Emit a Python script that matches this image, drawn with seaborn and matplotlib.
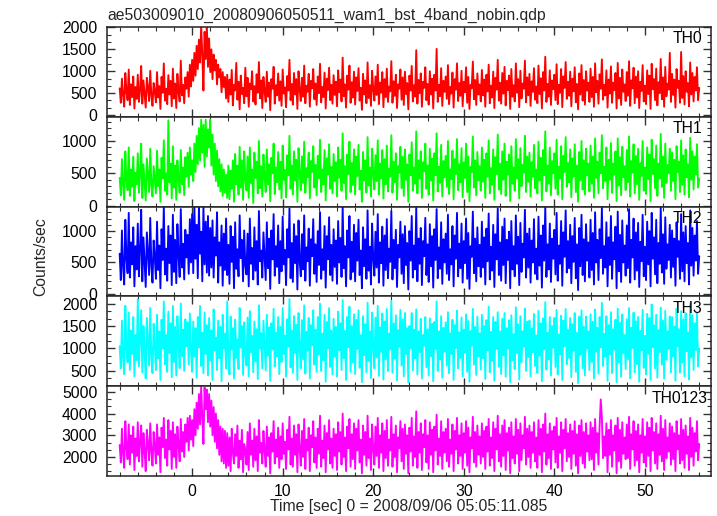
import numpy as np
import pandas as pd
import matplotlib
matplotlib.use("Agg")
import matplotlib.pyplot as plt
from matplotlib.ticker import MultipleLocator, AutoMinorLocator
import seaborn as sns

title = "ae503009010_20080906050511_wam1_bst_4band_nobin.qdp"
xlabel = "Time [sec] 0 = 2008/09/06 05:05:11.085"
ylabel = "Counts/sec"
bands = ["TH0", "TH1", "TH2", "TH3", "TH0123"]
colors = ["#ff0000", "#00ff00", "#0000ff", "#00ffff", "#ff00ff"]

t_start = -8.0
t_step = 0.125

th0 = [
    610, 280, 830, 450, 190, 960, 520, 340, 1040, 230, 700, 410, 880, 150, 640, 370,
    920, 300, 560, 1120, 260, 790, 480, 170, 850, 620, 320, 1010, 440, 210, 730, 540,
    290, 980, 400, 660, 140, 870, 510, 1180, 330, 600, 250, 910, 470, 780, 200, 1060,
    380, 720, 160, 940, 530, 310, 1240, 450, 690, 270, 860, 600, 980, 420, 1150, 650,
    1260, 780, 1420, 900, 1580, 1050, 1720, 1200, 2040, 1350, 560, 1900, 1280, 2060, 1100, 1750,
    980, 1500, 820, 1380, 1020, 1260, 700, 1150, 860, 1050, 520, 980, 640, 870, 380, 920,
    300, 810, 470, 1030, 220, 690, 560, 1190, 350, 760, 130, 900, 480, 620, 270, 1080,
    430, 850, 190, 720, 590, 1000, 310, 660, 240, 930, 510, 1210, 380, 790, 160, 870,
    540, 300, 990, 420, 740, 110, 820, 600, 1100, 260, 680, 450, 950, 330, 770, 210,
    1040, 490, 630, 180, 890, 560, 1260, 340, 710, 240, 960, 470, 820, 140, 1000, 580,
    320, 850, 420, 1130, 270, 670, 530, 940, 190, 780, 610, 1050, 360, 720, 230, 880,
    500, 1170, 290, 640, 410, 970, 150, 830, 570, 1080, 340, 690, 260, 910, 460, 760,
    200, 1020, 520, 810, 310, 1310, 430, 700, 170, 900, 580, 1130, 280, 750, 400, 990,
    240, 860, 550, 1070, 330, 620, 120, 940, 470, 790, 270, 1200, 390, 680, 210, 1010,
    590, 330, 880, 460, 1150, 250, 740, 510, 980, 180, 820, 410, 1060, 300, 650, 540,
    1230, 280, 770, 440, 920, 160, 700, 600, 1040, 350, 860, 230, 990, 480, 730, 130,
    900, 560, 1120, 310, 680, 420, 1480, 260, 800, 500, 950, 190, 760, 620, 1090, 340,
    710, 240, 1000, 470, 830, 150, 920, 560, 1510, 300, 690, 430, 1070, 210, 780, 530,
    880, 370, 1140, 250, 640, 490, 970, 170, 820, 580, 1180, 320, 730, 440, 1010, 200,
    760, 520, 1090, 280, 870, 140, 690, 610, 1220, 360, 800, 230, 950, 470, 700, 310,
    1030, 450, 810, 190, 920, 540, 1150, 270, 670, 400, 990, 160, 850, 580, 1260, 330,
    740, 260, 960, 490, 1100, 220, 780, 570, 900, 140, 1050, 420, 680, 310, 1180, 510,
    820, 180, 1010, 380, 720, 600, 1240, 290, 860, 450, 940, 210, 770, 530, 1070, 350,
    650, 270, 1130, 480, 840, 150, 980, 560, 1330, 300, 710, 420, 1020, 230, 790, 590,
    920, 340, 1160, 250, 690, 510, 1050, 180, 880, 620, 1210, 370, 760, 440, 990, 200,
    830, 540, 1090, 290, 710, 130, 950, 470, 1140, 330, 800, 240, 1000, 560, 740, 300,
    1060, 410, 870, 190, 1180, 520, 780, 260, 930, 600, 1270, 350, 690, 450, 1020, 170,
    810, 490, 1110, 280, 740, 570, 960, 150, 1190, 380, 850, 230, 1040, 530, 700, 320,
    980, 440, 1230, 210, 790, 610, 1080, 270, 880, 400, 1000, 160, 760, 550, 1140, 310,
    670, 250, 1020, 480, 900, 140, 1170, 590, 820, 340, 1060, 220, 750, 500, 1280, 360,
    860, 190, 1100, 430, 720, 580, 1420, 300, 940, 460, 810, 170, 1050, 620, 780, 280,
    1440, 390, 890, 240, 1000, 530, 730, 200, 1200, 470, 960, 310, 870, 560, 1090, 340,
    620,
]

th1 = [
    430, 160, 720, 310, 90, 840, 380, 240, 900, 150, 560, 290, 760, 70, 510, 330,
    810, 200, 460, 960, 120, 640, 350, 80, 730, 480, 210, 880, 320, 140, 610, 400,
    190, 850, 300, 560, 60, 740, 420, 1010, 230, 500, 170, 1320, 360, 650, 110, 920,
    280, 620, 90, 700, 410, 200, 860, 330, 590, 160, 750, 450, 820, 290, 900, 480,
    700, 380, 960, 520, 1080, 640, 1200, 700, 1330, 820, 1250, 600, 1330, 760, 1180, 900,
    1330, 620, 1100, 480, 960, 380, 850, 300, 720, 220, 640, 150, 560, 200, 480, 120,
    620, 100, 540, 260, 700, 60, 800, 330, 620, 170, 910, 280, 700, 90, 840, 390,
    240, 760, 120, 900, 350, 560, 40, 820, 430, 680, 190, 1000, 270, 610, 140, 790,
    460, 210, 870, 330, 640, 70, 740, 500, 960, 180, 590, 360, 830, 250, 680, 110,
    930, 400, 550, 130, 780, 470, 1080, 260, 620, 170, 840, 390, 710, 60, 890, 490,
    240, 760, 350, 990, 200, 580, 440, 820, 110, 690, 520, 920, 280, 630, 160, 770,
    420, 1020, 210, 560, 330, 860, 80, 730, 480, 950, 260, 600, 190, 800, 380, 670,
    140, 900, 430, 710, 230, 1120, 350, 610, 100, 790, 490, 990, 210, 660, 320, 870,
    170, 760, 460, 940, 250, 540, 60, 830, 390, 700, 200, 1060, 310, 590, 140, 880,
    500, 250, 780, 380, 1010, 170, 650, 420, 860, 110, 720, 330, 930, 220, 570, 450,
    1090, 200, 680, 360, 810, 90, 610, 510, 910, 270, 760, 150, 870, 400, 640, 60,
    790, 470, 980, 230, 590, 340, 1150, 190, 700, 420, 840, 120, 670, 530, 960, 260,
    620, 170, 880, 390, 730, 80, 810, 470, 1120, 220, 600, 350, 940, 140, 690, 440,
    770, 290, 1000, 180, 560, 410, 850, 100, 720, 490, 1030, 240, 640, 360, 890, 130,
    670, 430, 960, 210, 760, 70, 600, 520, 1070, 280, 700, 160, 830, 390, 610, 230,
    900, 370, 710, 120, 810, 450, 1010, 190, 580, 320, 870, 90, 750, 490, 1100, 250,
    650, 180, 840, 400, 960, 150, 680, 480, 790, 70, 920, 340, 590, 230, 1030, 420,
    720, 110, 890, 300, 630, 510, 1080, 210, 760, 370, 820, 140, 670, 450, 940, 270,
    560, 190, 990, 390, 740, 80, 860, 470, 1150, 220, 620, 340, 900, 160, 690, 500,
    810, 260, 1020, 170, 600, 420, 920, 100, 770, 520, 1060, 290, 660, 360, 870, 130,
    730, 450, 950, 210, 620, 60, 830, 390, 1000, 250, 700, 170, 880, 470, 650, 220,
    930, 340, 760, 120, 1040, 430, 680, 190, 820, 500, 1090, 270, 600, 380, 900, 100,
    710, 400, 970, 200, 650, 480, 840, 70, 1040, 310, 750, 160, 910, 440, 610, 240,
    860, 360, 1070, 140, 690, 510, 950, 190, 770, 330, 880, 90, 660, 460, 1000, 230,
    590, 180, 900, 410, 790, 70, 1020, 490, 720, 270, 930, 150, 650, 420, 1110, 290,
    760, 120, 960, 350, 630, 500, 880, 230, 820, 380, 710, 100, 920, 520, 680, 210,
    1010, 320, 780, 170, 870, 440, 640, 130, 1050, 400, 840, 250, 760, 480, 950, 280,
    420,
]

th2 = [
    640, 220, 1010, 430, 150, 1180, 560, 330, 1290, 260, 820, 470, 1060, 120, 760, 390,
    1120, 280, 690, 1340, 200, 900, 510, 110, 980, 650, 300, 1210, 450, 180, 850, 600,
    240, 1150, 380, 770, 90, 1030, 540, 1390, 310, 720, 210, 1080, 490, 930, 140, 1260,
    350, 860, 170, 1110, 620, 270, 1350, 420, 800, 230, 1020, 580, 940, 320, 1190, 500,
    1270, 330, 1390, 560, 1100, 250, 1380, 640, 990, 200, 1390, 470, 1150, 340, 1240, 290,
    1050, 420, 1170, 260, 900, 610, 1300, 180, 820, 450, 1090, 130, 960, 380, 1200, 300,
    780, 160, 1080, 510, 910, 90, 1140, 400, 710, 280, 1250, 570, 860, 200, 1010, 450,
    310, 960, 120, 1200, 480, 730, 230, 1060, 370, 840, 150, 1320, 520, 690, 260, 980,
    590, 220, 1140, 410, 880, 80, 1010, 550, 1270, 290, 760, 430, 1090, 170, 840, 360,
    1230, 470, 700, 140, 1030, 580, 1360, 250, 810, 190, 1110, 490, 920, 70, 1170, 530,
    280, 950, 390, 1250, 210, 740, 520, 1040, 130, 870, 600, 1190, 320, 790, 190, 1000,
    460, 1300, 240, 710, 380, 1080, 100, 920, 550, 1220, 300, 780, 210, 1030, 430, 850,
    160, 1160, 500, 890, 270, 1380, 410, 760, 120, 1010, 580, 1240, 230, 830, 350, 1100,
    200, 970, 530, 1180, 300, 690, 90, 1060, 440, 870, 240, 1330, 370, 750, 150, 1120,
    570, 290, 990, 420, 1270, 180, 820, 490, 1070, 130, 930, 380, 1190, 250, 720, 510,
    1320, 230, 860, 410, 1020, 110, 780, 580, 1150, 320, 950, 170, 1080, 460, 810, 70,
    1000, 530, 1240, 260, 770, 390, 1370, 200, 880, 480, 1050, 140, 840, 600, 1210, 300,
    790, 190, 1110, 440, 920, 100, 1030, 540, 1350, 250, 740, 400, 1140, 160, 870, 500,
    960, 320, 1260, 220, 710, 470, 1080, 120, 930, 560, 1290, 280, 800, 410, 1120, 180,
    840, 490, 1200, 240, 970, 80, 760, 590, 1310, 330, 880, 200, 1060, 440, 780, 270,
    1150, 420, 900, 150, 1040, 520, 1280, 230, 750, 370, 1100, 110, 950, 550, 1360, 300,
    820, 210, 1070, 460, 1200, 170, 860, 540, 990, 90, 1160, 390, 760, 280, 1250, 480,
    910, 140, 1130, 350, 800, 580, 1340, 260, 960, 420, 1040, 180, 850, 500, 1190, 320,
    720, 230, 1230, 450, 930, 100, 1090, 530, 1380, 270, 790, 390, 1120, 190, 880, 560,
    1020, 310, 1290, 210, 770, 480, 1160, 130, 980, 590, 1330, 340, 840, 410, 1100, 170,
    920, 510, 1210, 250, 790, 60, 1050, 440, 1260, 300, 870, 200, 1110, 530, 820, 260,
    1180, 380, 970, 150, 1300, 500, 860, 220, 1030, 570, 1370, 320, 760, 420, 1140, 120,
    900, 460, 1240, 240, 820, 550, 1070, 90, 1310, 360, 940, 190, 1170, 500, 770, 290,
    1090, 410, 1350, 180, 860, 580, 1200, 230, 980, 370, 1130, 110, 830, 520, 1260, 280,
    750, 220, 1150, 470, 1000, 120, 1290, 560, 900, 310, 1180, 170, 810, 480, 1370, 340,
    950, 160, 1220, 400, 790, 540, 1100, 260, 1010, 430, 880, 130, 1140, 590, 840, 240,
    1270, 360, 980, 200, 1080, 490, 810, 150, 1330, 450, 1050, 290, 930, 530, 1160, 320,
    600,
]

th3 = [
    1050, 560, 1620, 780, 430, 1950, 1000, 690, 1800, 520, 1400, 880, 1700, 380, 1300, 740,
    2100, 600, 1250, 1850, 470, 1500, 950, 330, 1680, 1150, 620, 1900, 820, 450, 1550, 1080,
    520, 1750, 780, 1380, 300, 1640, 1000, 2050, 650, 1300, 480, 1820, 900, 1560, 360, 1950,
    700, 1480, 400, 1720, 1100, 560, 2000, 830, 1420, 500, 1650, 1050, 1580, 640, 1780, 940,
    480, 1600, 820, 1450, 350, 1700, 1020, 1950, 610, 1350, 450, 1800, 880, 1520, 400, 1680,
    730, 1400, 300, 1870, 960, 1240, 520, 1620, 780, 1480, 270, 1750, 1000, 1330, 560, 2050,
    850, 420, 1710, 980, 1450, 330, 1640, 790, 1200, 540, 1900, 1020, 1500, 410, 1580, 870,
    620, 1690, 380, 1830, 920, 1280, 470, 1600, 710, 1430, 320, 1960, 1000, 1340, 560, 1620,
    1080, 510, 1750, 840, 1470, 280, 1560, 980, 1880, 600, 1350, 820, 1700, 430, 1480, 700,
    1900, 880, 1290, 370, 1650, 1040, 2100, 580, 1400, 460, 1720, 900, 1530, 300, 1790, 1010,
    560, 1630, 760, 1960, 440, 1370, 950, 1680, 330, 1520, 1070, 1850, 640, 1420, 480, 1700,
    860, 2000, 500, 1330, 740, 1750, 260, 1590, 1000, 1900, 590, 1400, 420, 1660, 820, 1480,
    370, 1820, 960, 1560, 520, 2080, 780, 1390, 300, 1700, 1030, 1930, 480, 1500, 690, 1760,
    430, 1640, 990, 1850, 570, 1300, 250, 1720, 850, 1540, 470, 2020, 720, 1380, 340, 1800,
    1050, 560, 1690, 800, 1950, 390, 1470, 930, 1780, 310, 1600, 760, 1880, 500, 1330, 980,
    2060, 460, 1560, 770, 1740, 290, 1410, 1040, 1860, 620, 1650, 380, 1790, 880, 1450, 240,
    1500, 1000, 1790, 510, 1420, 780, 1870, 420, 1380, 920, 1660, 330, 1300, 1060, 1700, 580,
    1430, 400, 1670, 830, 1550, 270, 1590, 990, 2050, 500, 1380, 760, 1720, 350, 1460, 930,
    1580, 620, 1810, 450, 1340, 880, 1640, 300, 1520, 1010, 1840, 560, 1360, 790, 1690, 380,
    1420, 910, 1760, 480, 1610, 260, 1390, 1060, 1880, 640, 1480, 410, 1710, 830, 1340, 530,
    1750, 780, 1500, 320, 1630, 960, 1930, 470, 1370, 720, 1700, 280, 1590, 990, 1810, 590,
    1380, 430, 1660, 850, 1790, 370, 1450, 1000, 1630, 250, 1740, 740, 1320, 540, 1920, 900,
    1540, 310, 1720, 690, 1380, 1040, 1890, 500, 1600, 810, 1620, 380, 1440, 920, 1770, 610,
    1290, 460, 1840, 840, 1560, 270, 1670, 980, 2030, 530, 1350, 760, 1700, 400, 1500, 1020,
    1680, 590, 1860, 420, 1310, 870, 1730, 300, 1620, 1050, 1880, 650, 1420, 790, 1680, 360,
    1540, 950, 1790, 480, 1350, 230, 1710, 860, 1850, 560, 1490, 400, 1710, 1000, 1380, 520,
    1760, 700, 1600, 330, 1870, 930, 1460, 440, 1700, 1020, 2020, 610, 1330, 820, 1720, 280,
    1520, 870, 1810, 450, 1430, 980, 1640, 250, 1890, 690, 1580, 370, 1760, 900, 1300, 540,
    1650, 760, 1900, 340, 1460, 1010, 1800, 470, 1610, 650, 1700, 260, 1390, 960, 1860, 570,
    1280, 420, 1770, 880, 1680, 300, 1980, 1030, 1520, 560, 1750, 350, 1410, 920, 1910, 640,
    1620, 330, 1840, 750, 1380, 990, 1710, 470, 1700, 820, 1490, 280, 1890, 1050, 1430, 460,
    1830, 680, 1650, 380, 1790, 940, 1360, 310, 2000, 800, 1740, 520, 1560, 970, 1780, 600,
    1000,
]

th0123 = [
    2550, 1750, 3300, 2150, 1500, 3650, 2400, 1900, 3500, 1650, 3000, 2200, 3400, 1400, 2850, 2050,
    3600, 1800, 2700, 3450, 1550, 3100, 2300, 1350, 3250, 2600, 1850, 3550, 2250, 1600, 3150, 2500,
    1700, 3500, 2100, 2900, 1300, 3350, 2450, 3800, 1950, 2800, 1600, 3700, 2350, 3200, 1450, 3600,
    2000, 3050, 1500, 3400, 2550, 1800, 3750, 2250, 3150, 2000, 3500, 2700, 3800, 2300, 3900, 2800,
    3700, 2500, 4200, 3000, 4500, 3300, 4900, 3500, 5250, 3800, 2600, 5200, 4200, 5100, 3600, 4900,
    3400, 4600, 3000, 4300, 2700, 4000, 2400, 3700, 2100, 3400, 1800, 3300, 1700, 3200, 1500, 3100,
    1600, 2900, 1350, 3300, 2200, 1700, 3050, 2050, 3450, 1500, 2750, 1900, 3250, 1300, 2600, 2300,
    1650, 3150, 1400, 3550, 2100, 2750, 1550, 3300, 1850, 2950, 1350, 3700, 2200, 2650, 1700, 3200,
    2300, 1550, 3400, 2050, 2900, 1250, 3100, 2250, 3650, 1700, 2800, 2000, 3350, 1500, 2950, 1900,
    3550, 2150, 2700, 1450, 3250, 2350, 3850, 1650, 2850, 1550, 3450, 2100, 3050, 1300, 3500, 2400,
    1600, 3200, 2000, 3750, 1450, 2800, 2300, 3350, 1350, 3000, 2450, 3650, 1750, 2900, 1500, 3300,
    2150, 3900, 1550, 2750, 1950, 3450, 1300, 3100, 2350, 3700, 1700, 2850, 1500, 3300, 2050, 3050,
    1400, 3600, 2250, 3150, 1650, 4000, 2000, 2900, 1350, 3400, 2400, 3750, 1550, 3050, 1900, 3550,
    1450, 3300, 2300, 3700, 1750, 2800, 1250, 3450, 2100, 3150, 1600, 3900, 1950, 2850, 1400, 3500,
    2350, 1650, 3400, 2050, 3800, 1500, 3000, 2200, 3550, 1350, 3200, 1950, 3700, 1600, 2800, 2300,
    3850, 1550, 3050, 2000, 3450, 1300, 2900, 2400, 3650, 1800, 3300, 1450, 3500, 2150, 3000, 1250,
    3350, 2250, 3800, 1600, 2950, 2000, 4100, 1500, 3150, 2200, 3550, 1400, 3050, 2450, 3700, 1750,
    3000, 1450, 3600, 2100, 3250, 1300, 3400, 2300, 3950, 1650, 2850, 2050, 3650, 1450, 3150, 2200,
    3300, 1800, 3750, 1550, 2800, 2150, 3500, 1350, 3200, 2350, 3800, 1700, 3000, 2050, 3550, 1450,
    3100, 2200, 3650, 1600, 3350, 1300, 2900, 2400, 3850, 1750, 3150, 1550, 3450, 2100, 2950, 1700,
    3550, 2000, 3200, 1450, 3400, 2250, 3750, 1600, 2900, 1950, 3600, 1350, 3300, 2350, 3900, 1800,
    3050, 1550, 3450, 2050, 3700, 1400, 3100, 2300, 3350, 1250, 3600, 1950, 2950, 1700, 3750, 2150,
    3250, 1350, 3550, 1850, 3000, 2400, 3850, 1650, 3300, 2000, 3450, 1500, 3150, 2200, 3600, 1800,
    2900, 1500, 3700, 2100, 3300, 1300, 3500, 2250, 4000, 1650, 3050, 1950, 3550, 1450, 3200, 2350,
    3400, 1750, 3800, 1500, 2950, 2200, 3600, 1350, 3250, 2400, 3750, 1800, 3100, 2000, 3500, 1450,
    3200, 2150, 3650, 1600, 3050, 1250, 3450, 2050, 3700, 1700, 3150, 1500, 3550, 2250, 3000, 1850,
    3600, 1900, 3350, 1400, 3750, 2200, 3100, 1650, 3450, 4650, 3800, 1950, 2950, 2050, 3550, 1300,
    3250, 2100, 3700, 1550, 3000, 2300, 3450, 1250, 3800, 1800, 3250, 1500, 3600, 2150, 2900, 1900,
    3500, 1950, 3850, 1450, 3050, 2350, 3650, 1600, 3200, 1850, 3500, 1300, 3000, 2200, 3750, 1750,
    2950, 1550, 3600, 2050, 3350, 1350, 3800, 2300, 3150, 1700, 3550, 1450, 3050, 2100, 3900, 1800,
    3300, 1400, 3700, 1950, 2900, 2250, 3550, 1650, 3400, 1900, 3100, 1350, 3650, 2350, 3000, 1700,
    3750, 1850, 3250, 1500, 3450, 2150, 2950, 1400, 3800, 2000, 3350, 1600, 3100, 2250, 3650, 1850,
    2600,
]

series = [th0, th1, th2, th3, th0123]
ylims = [(-40, 2010), (-15, 1375), (-40, 1390), (160, 2160), (1125, 5260)]
yminor_div = [3, 5, 5, 3, 3]
yticks = [[0, 500, 1000, 1500, 2000], [0, 500, 1000], [0, 500, 1000],
          [500, 1000, 1500, 2000], [2000, 3000, 4000, 5000]]
xticks = [0, 10, 20, 30, 40, 50]

sns.set_theme(style="ticks")
plt.rcParams["font.family"] = ["Liberation Sans", "DejaVu Sans"]

fig = plt.figure(figsize=(7.17, 5.16), dpi=100)
left, right, top, bottom = 107 / 717, 711 / 717, 1 - 27 / 516, 1 - 476 / 516
gs = fig.add_gridspec(5, 1, left=left, right=right, top=top, bottom=bottom, hspace=0)
axes = [fig.add_subplot(gs[i, 0]) for i in range(5)]

for i, ax in enumerate(axes):
    vals = series[i]
    time = t_start + t_step * np.arange(len(vals))
    df = pd.DataFrame({"time": time, "rate": vals})
    sns.lineplot(data=df, x="time", y="rate", ax=ax, color=colors[i],
                 linewidth=1.35, estimator=None, sort=False, errorbar=None)
    ax.set_xlim(-9.4, 57.3)
    ax.set_ylim(*ylims[i])
    ax.set_yticks(yticks[i])
    ax.yaxis.set_minor_locator(AutoMinorLocator(yminor_div[i]))
    ax.set_xticks(xticks)
    ax.xaxis.set_minor_locator(MultipleLocator(2))
    ax.tick_params(which="both", direction="in", top=True, right=True,
                   color="#333333", labelsize=11.3, labelcolor="black")
    ax.tick_params(axis="y", which="both", pad=7)
    ax.tick_params(axis="x", which="both", pad=6)
    ax.tick_params(which="major", length=6, width=1.0)
    ax.tick_params(which="minor", length=3, width=0.8)
    ax.set_xlabel("")
    ax.set_ylabel("")
    for sp in ax.spines.values():
        sp.set_linewidth(1.1)
        sp.set_color("#222222")
    if i < 4:
        ax.tick_params(labelbottom=False)
    ax.text(0.985 if i < 4 else 0.995, 0.95, bands[i], transform=ax.transAxes,
            ha="right", va="top", fontsize=11.3, color="black")

axes[-1].set_xlabel(xlabel, fontsize=11.3, labelpad=0)
fig.text(0.057, 1 - 257 / 516, ylabel, rotation=90, ha="center", va="center",
         fontsize=11.3)
fig.text(left, 1 - 15 / 516, title, ha="left", va="center", fontsize=11.3)

fig.savefig("out.png", dpi=100)
